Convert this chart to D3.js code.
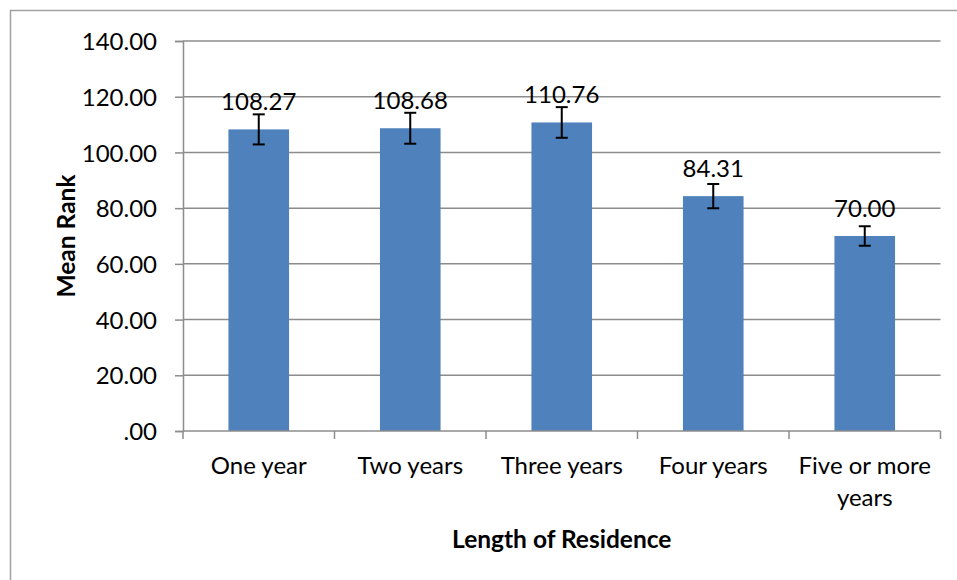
<!DOCTYPE html>
<html><head><meta charset="utf-8">
<script src="https://cdn.jsdelivr.net/npm/d3@7"></script>
<style>body{margin:0;background:#fff}svg{display:block}text{font-family:Lato,"Open Sans",sans-serif;fill:#000}</style>
</head><body><svg id="c" width="957" height="580"></svg>
<script>
const categories = [["One year"],["Two years"],["Three years"],["Four years"],["Five or more","years"]];
const meanRank = [108.27, 108.68, 110.76, 84.31, 70.00];
const errors = [5.4, 5.55, 5.5, 4.35, 3.5];
const yTicks = [0,20,40,60,80,100,120,140];
const yTitle = "Mean Rank";
const xTitle = "Length of Residence";

const svg = d3.select("#c");
const L=183, R=940.5, T=41, B=431;
const x = d3.scaleBand().domain(d3.range(categories.length)).range([L,R]).padding(0);
const y = d3.scaleLinear().domain([0,140]).range([B,T]);
const fmt = v => v===0 ? ".00" : d3.format(".2f")(v);

svg.append("rect").attr("x",10.5).attr("y",10.5).attr("width",1200).attr("height",1200)
  .attr("fill","none").attr("stroke","#a0a0a0").attr("stroke-width",1.5);

// gridlines
svg.append("g").selectAll("line").data(yTicks.filter(d=>d>0)).join("line")
  .attr("x1",L).attr("x2",R).attr("y1",d=>y(d)).attr("y2",d=>y(d))
  .attr("stroke","#8c8c8c").attr("stroke-width",1.5);

// y axis
const ya = svg.append("g").attr("transform",`translate(${L},0)`)
  .call(d3.axisLeft(y).tickValues(yTicks).tickFormat(fmt).tickSize(8).tickPadding(18));
ya.select(".domain").attr("stroke","#8c8c8c").attr("stroke-width",1.5);
ya.selectAll(".tick line").attr("stroke","#8c8c8c").attr("stroke-width",1.5);
ya.selectAll(".tick text").attr("font-size",24).attr("font-family","Lato").attr("dy","0.36em");

// bars
const bw = x.bandwidth()*0.4;
svg.append("g").selectAll("rect").data(meanRank).join("rect")
  .attr("x",(d,i)=>x(i)+x.bandwidth()/2-bw/2).attr("width",bw)
  .attr("y",d=>y(d)).attr("height",d=>B-y(d)).attr("fill","#4F81BD");

// x axis
svg.append("line").attr("x1",L).attr("x2",R).attr("y1",B).attr("y2",B).attr("stroke","#8c8c8c").attr("stroke-width",1.5);
svg.append("g").selectAll("line").data(d3.range(categories.length+1)).join("line")
  .attr("x1",i=>L+i*x.step()).attr("x2",i=>L+i*x.step()).attr("y1",B).attr("y2",B+8)
  .attr("stroke","#8c8c8c").attr("stroke-width",1.5);
const cl = svg.append("g").selectAll("text").data(categories).join("text")
  .attr("text-anchor","middle").attr("font-size",24)
  .attr("x",(d,i)=>x(i)+x.bandwidth()/2).attr("y",474);
cl.selectAll("tspan").data(d=>d).join("tspan")
  .attr("x",function(){return this.parentNode.getAttribute("x");})
  .attr("dy",(d,i)=>i===0?0:32).text(d=>d);

// error bars
const eg = svg.append("g").attr("stroke","#000").attr("stroke-width",2);
meanRank.forEach((v,i)=>{
  const cx = x(i)+x.bandwidth()/2;
  eg.append("line").attr("x1",cx).attr("x2",cx).attr("y1",y(v+errors[i])).attr("y2",y(v-errors[i]));
  eg.append("line").attr("x1",cx-6).attr("x2",cx+6).attr("y1",y(v+errors[i])).attr("y2",y(v+errors[i]));
  eg.append("line").attr("x1",cx-6).attr("x2",cx+6).attr("y1",y(v-errors[i])).attr("y2",y(v-errors[i]));
});

// value labels
svg.append("g").selectAll("text").data(meanRank).join("text")
  .attr("text-anchor","middle").attr("font-size",24)
  .attr("x",(d,i)=>x(i)+x.bandwidth()/2).attr("y",d=>y(d)-19.5)
  .text(d=>d3.format(".2f")(d));

// titles
svg.append("text").attr("text-anchor","middle").attr("font-size",24.5).attr("font-weight","bold")
  .attr("transform",`translate(75,236) rotate(-90)`).text(yTitle);
svg.append("text").attr("text-anchor","middle").attr("font-size",24.5).attr("font-weight","bold")
  .attr("x",(L+R)/2).attr("y",548).text(xTitle);
</script></body></html>
